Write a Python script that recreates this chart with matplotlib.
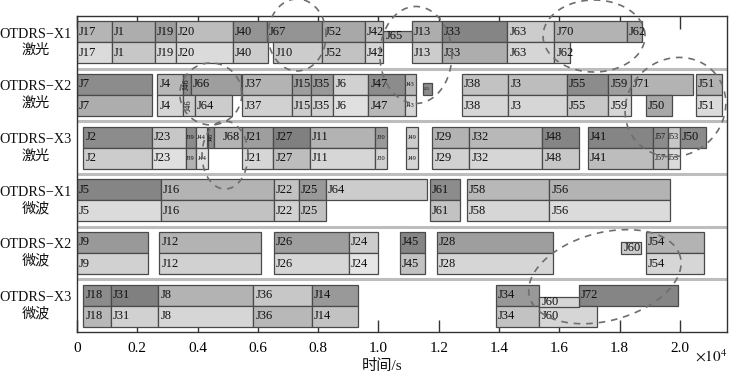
import numpy as np
import matplotlib
matplotlib.use('Agg')
import matplotlib.pyplot as plt

plt.rcParams['font.family'] = ['Liberation Serif', 'Noto Sans CJK SC']
plt.rcParams['mathtext.fontset'] = 'stix'

# ---------------- data (time in units of 1e4 s) ----------------
row_labels = ['OTDRS−X1\n激光', 'OTDRS−X2\n激光', 'OTDRS−X3\n激光',
              'OTDRS−X1\n微波', 'OTDRS−X2\n微波', 'OTDRS−X3\n微波']

# row 1 : OTDRS-X1 laser
r1_top_jobs  = ['J17', 'J1', 'J19', 'J20', 'J40', 'J67', 'J52', 'J42', 'J13', 'J33', 'J63', 'J70', 'J62']
r1_top_start = [0.000, 0.115, 0.259, 0.328, 0.516, 0.630, 0.814, 0.955, 1.110, 1.210, 1.427, 1.583, 1.823]
r1_top_end   = [0.115, 0.259, 0.328, 0.516, 0.630, 0.814, 0.955, 1.016, 1.210, 1.427, 1.583, 1.823, 1.875]
r1_bot_jobs  = ['J17', 'J1', 'J19', 'J20', 'J40', 'J10', 'J52', 'J42', 'J13', 'J33', 'J63', 'J62']
r1_bot_start = [0.000, 0.115, 0.259, 0.328, 0.516, 0.651, 0.814, 0.955, 1.110, 1.210, 1.427, 1.583]
r1_bot_end   = [0.115, 0.259, 0.328, 0.516, 0.634, 0.814, 0.955, 1.016, 1.210, 1.427, 1.583, 1.635]

# row 2 : OTDRS-X2 laser
r2_top_jobs  = ['J7', 'J4', 'J46', 'J66', 'J37', 'J15', 'J35', 'J6', 'J47', 'J43', 'J38', 'J3', 'J55', 'J59', 'J71', 'J51']
r2_top_start = [0.000, 0.266, 0.353, 0.377, 0.548, 0.712, 0.775, 0.850, 0.966, 1.088, 1.276, 1.431, 1.624, 1.762, 1.836, 2.053]
r2_top_end   = [0.248, 0.353, 0.377, 0.543, 0.712, 0.775, 0.850, 0.966, 1.088, 1.124, 1.431, 1.624, 1.762, 1.836, 2.044, 2.140]
r2_bot_jobs  = ['J7', 'J4', 'J46', 'J64', 'J37', 'J15', 'J35', 'J6', 'J47', 'J43', 'J38', 'J3', 'J55', 'J59', 'J50', 'J51']
r2_bot_start = [0.000, 0.266, 0.353, 0.391, 0.548, 0.712, 0.775, 0.850, 0.966, 1.088, 1.276, 1.431, 1.624, 1.762, 1.887, 2.053]
r2_bot_end   = [0.248, 0.353, 0.391, 0.515, 0.712, 0.775, 0.850, 0.966, 1.088, 1.124, 1.431, 1.624, 1.762, 1.836, 1.972, 2.140]

# row 3 : OTDRS-X3 laser
r3_top_jobs  = ['J2', 'J23', 'J39', 'J44', 'J46', 'J68', 'J21', 'J27', 'J11', 'J30', 'J49', 'J29', 'J32', 'J48', 'J41', 'J57', 'J53', 'J50']
r3_top_start = [0.021, 0.248, 0.360, 0.394, 0.435, 0.454, 0.548, 0.651, 0.773, 0.988, 1.090, 1.178, 1.301, 1.543, 1.694, 1.909, 1.959, 2.000]
r3_top_end   = [0.248, 0.360, 0.394, 0.430, 0.454, 0.548, 0.651, 0.773, 0.988, 1.029, 1.132, 1.301, 1.543, 1.665, 1.909, 1.959, 2.000, 2.086]
r3_bot_jobs  = ['J2', 'J23', 'J39', 'J44', 'J21', 'J27', 'J11', 'J30', 'J49', 'J29', 'J32', 'J48', 'J41', 'J57', 'J53']
r3_bot_start = [0.021, 0.248, 0.360, 0.394, 0.548, 0.651, 0.773, 0.988, 1.090, 1.178, 1.301, 1.543, 1.694, 1.909, 1.959]
r3_bot_end   = [0.248, 0.360, 0.394, 0.436, 0.651, 0.773, 0.988, 1.029, 1.132, 1.301, 1.543, 1.665, 1.909, 1.959, 2.000]

# row 4 : OTDRS-X1 microwave
r4_top_jobs  = ['J5', 'J16', 'J22', 'J25', 'J64', 'J61', 'J58', 'J56']
r4_top_start = [0.000, 0.278, 0.653, 0.736, 0.825, 1.171, 1.294, 1.567]
r4_top_end   = [0.278, 0.653, 0.736, 0.825, 1.160, 1.271, 1.567, 1.967]
r4_bot_jobs  = ['J5', 'J16', 'J22', 'J25', 'J61', 'J58', 'J56']
r4_bot_start = [0.000, 0.278, 0.653, 0.736, 1.171, 1.294, 1.567]
r4_bot_end   = [0.278, 0.653, 0.736, 0.825, 1.271, 1.567, 1.967]

# row 5 : OTDRS-X2 microwave
r5_top_jobs  = ['J9', 'J12', 'J26', 'J24', 'J45', 'J28', 'J54']
r5_top_start = [0.000, 0.273, 0.653, 0.901, 1.071, 1.193, 1.887]
r5_top_end   = [0.237, 0.609, 0.901, 0.997, 1.154, 1.578, 2.081]
r5_bot_jobs  = ['J9', 'J12', 'J26', 'J24', 'J45', 'J28', 'J54']
r5_bot_start = [0.000, 0.273, 0.653, 0.901, 1.071, 1.193, 1.887]
r5_bot_end   = [0.237, 0.609, 0.901, 0.997, 1.154, 1.578, 2.081]

# row 6 : OTDRS-X3 microwave
r6_top_jobs  = ['J18', 'J31', 'J8', 'J36', 'J14', 'J34', 'J72']
r6_top_start = [0.021, 0.113, 0.270, 0.585, 0.778, 1.390, 1.664]
r6_top_end   = [0.113, 0.270, 0.585, 0.778, 0.933, 1.533, 1.994]
r6_bot_jobs  = ['J18', 'J31', 'J8', 'J36', 'J14', 'J34', 'J60']
r6_bot_start = [0.021, 0.113, 0.270, 0.585, 0.778, 1.390, 1.533]
r6_bot_end   = [0.113, 0.270, 0.585, 0.778, 0.933, 1.533, 1.726]

# inserted (re-scheduled) jobs drawn as smaller boxes
extra_jobs  = ['J65', 'J65', 'J60', 'J60']
extra_row   = [0, 1, 4, 5]
extra_start = [1.016, 1.146, 1.806, 1.533]
extra_end   = [1.110, 1.176, 1.870, 1.664]

x_ticks = [0, 0.2, 0.4, 0.6, 0.8, 1.0, 1.2, 1.4, 1.6, 1.8, 2.0]
x_tick_labels = ['0', '0.2', '0.4', '0.6', '0.8', '1.0', '1.2', '1.4', '1.6', '1.8', '2.0']

# ---------------- styles ----------------
r1_top_gray = [.71, .68, .62, .74, .58, .58, .66, .74, .68, .52, .80, .70, .66]
r1_bot_gray = [.86, .78, .84, .86, .80, .80, .76, .84, .80, .68, .84, .80]
r2_top_gray = [.55, .72, .55, .62, .70, .62, .60, .82, .55, .72, .76, .74, .55, .62, .70, .70]
r2_bot_gray = [.68, .84, .80, .80, .82, .80, .82, .88, .72, .84, .84, .84, .78, .84, .66, .86]
r3_top_gray = [.55, .78, .55, .82, .55, .70, .62, .50, .70, .60, .80, .70, .72, .52, .52, .55, .78, .55]
r3_bot_gray = [.80, .88, .70, .88, .84, .74, .84, .82, .84, .82, .84, .78, .74, .74, .86]
r4_top_gray = [.52, .70, .76, .60, .80, .55, .72, .70]
r4_bot_gray = [.86, .76, .82, .76, .76, .84, .86]
r5_top_gray = [.60, .70, .62, .80, .52, .62, .70]
r5_bot_gray = [.82, .82, .84, .90, .76, .84, .84]
r6_top_gray = [.55, .50, .70, .78, .60, .60, .52]
r6_bot_gray = [.72, .82, .84, .72, .76, .76, .84]
extra_gray = [.66, .55, .80, .84]
extra_y = [(0.28, 0.49), (0.27, 0.50), (0.30, 0.52), (0.33, 0.53)]  # within-row offsets
extra_fs = [9, 3.2, 9, 9]

lanes = [
    (0, 'top', r1_top_jobs, r1_top_start, r1_top_end, r1_top_gray),
    (0, 'bot', r1_bot_jobs, r1_bot_start, r1_bot_end, r1_bot_gray),
    (1, 'top', r2_top_jobs, r2_top_start, r2_top_end, r2_top_gray),
    (1, 'bot', r2_bot_jobs, r2_bot_start, r2_bot_end, r2_bot_gray),
    (2, 'top', r3_top_jobs, r3_top_start, r3_top_end, r3_top_gray),
    (2, 'bot', r3_bot_jobs, r3_bot_start, r3_bot_end, r3_bot_gray),
    (3, 'top', r4_top_jobs, r4_top_start, r4_top_end, r4_top_gray),
    (3, 'bot', r4_bot_jobs, r4_bot_start, r4_bot_end, r4_bot_gray),
    (4, 'top', r5_top_jobs, r5_top_start, r5_top_end, r5_top_gray),
    (4, 'bot', r5_bot_jobs, r5_bot_start, r5_bot_end, r5_bot_gray),
    (5, 'top', r6_top_jobs, r6_top_start, r6_top_end, r6_top_gray),
    (5, 'bot', r6_bot_jobs, r6_bot_start, r6_bot_end, r6_bot_gray),
]

tiny5 = {'J43', 'J39', 'J44', 'J30', 'J49'}
small6 = {'J57', 'J53'}
edge = '#4a4a4a'
txt_col = '#101010'
LAB_FS = 9

W, H = 729, 377
fig = plt.figure(figsize=(W / 100, H / 100), dpi=100)
ax_l, ax_r, ax_t, ax_b = 77, 727, 16, 332
ax = fig.add_axes([ax_l / W, 1 - ax_b / H, (ax_r - ax_l) / W, (ax_b - ax_t) / H])
XMAX = 2.156
ax.set_xlim(0, XMAX)
ax.set_ylim(6, 0)
ax.set_axisbelow(True)

for (r, pos, jobs, st, en, grays) in lanes:
    y0 = r + (0.1 if pos == 'top' else 0.5)
    st = np.array(st); en = np.array(en)
    ax.barh(np.full(len(st), y0 + 0.2), en - st, left=st, height=0.4,
            color=[str(g) for g in grays], edgecolor=edge, linewidth=0.9, zorder=2)
    for j, s, e in zip(jobs, st, en):
        yc = y0 + 0.2
        if j == 'J46':
            fs = 6 if (r == 1) else 4.2
            ax.text((s + e) / 2, yc, j, rotation=90, ha='center', va='center',
                    fontsize=fs, color=txt_col, zorder=4)
        elif j in tiny5:
            ax.text((s + e) / 2, yc, j, ha='center', va='center', fontsize=4.6,
                    color=txt_col, zorder=4)
        elif j in small6:
            ax.text((s + e) / 2, yc, j, ha='center', va='center', fontsize=5.8,
                    color=txt_col, zorder=4)
        elif j == 'J68':
            ax.text(e - 0.008, yc, j, ha='right', va='center', fontsize=LAB_FS,
                    color=txt_col, zorder=4)
        else:
            ax.text(s + 0.007, yc, j, ha='left', va='center', fontsize=LAB_FS,
                    color=txt_col, zorder=4)

for j, r, s, e, g, (a, b), fs in zip(extra_jobs, extra_row, extra_start, extra_end,
                                     extra_gray, extra_y, extra_fs):
    ax.barh([r + (a + b) / 2], [e - s], left=[s], height=b - a, color=str(g),
            edgecolor=edge, linewidth=0.9, zorder=3)
    if fs < 5:
        ax.text((s + e) / 2, r + (a + b) / 2, j, ha='center', va='center',
                fontsize=fs, color=txt_col, zorder=4)
    else:
        ax.text(s + 0.007, r + (a + b) / 2, j, ha='left', va='center',
                fontsize=fs, color=txt_col, zorder=4)

# row separators
for k in range(1, 6):
    ax.axhline(k, color='#bdbdbd', lw=2.2, zorder=1)

# dashed ellipses (centre in data units, semi-axes in pixels, angle deg)
px_x = (ax_r - ax_l) / XMAX
px_y = (ax_b - ax_t) / 6
ellipses = [
    (0.730, 0.36, 29, 36, 0),
    (1.124, 0.74, 36, 48.5, 0),
    (1.715, 0.38, 51, 36, 0),
    (0.444, 1.48, 31, 31, 0),
    (0.491, 2.64, 23, 34, 0),
    (1.985, 1.73, 52, 48, 40),
    (1.751, 4.95, 78, 44, 15),
]
t = np.linspace(0, 2 * np.pi, 300)
for xc, yc, a, b, ang in ellipses:
    th = np.deg2rad(ang)
    dx = a * np.cos(t) * np.cos(th) - b * np.sin(t) * np.sin(th)
    dy = a * np.cos(t) * np.sin(th) + b * np.sin(t) * np.cos(th)
    ax.plot(xc + dx / px_x, yc - dy / px_y, color='#6e6e6e', lw=1.2,
            linestyle=(0, (4, 3.5)), clip_on=False, zorder=5)

ax.set_xticks(x_ticks)
ax.set_xticklabels(x_tick_labels, fontsize=11)
ax.tick_params(axis='x', direction='in', length=9, width=1, top=True, pad=7,
               color='#333333')
ax.set_yticks([])
for sp in ax.spines.values():
    sp.set_color('#333333')
    sp.set_linewidth(1.0)

for i, lab in enumerate(row_labels):
    ax.text(-0.0635, i + 0.5, lab, transform=ax.get_yaxis_transform(),
            ha='center', va='center', fontsize=10.2, linespacing=1.3,
            multialignment='center', color='#111111')

fig.text(382 / W, 1 - 366 / H, '时间/s', ha='center', va='center', fontsize=11,
         color='#111111')
fig.text(727 / W, 1 - 356 / H, r'$\times10^4$', ha='right', va='center',
         fontsize=11, color='#111111')

fig.savefig('out.png', dpi=100, facecolor='white')
